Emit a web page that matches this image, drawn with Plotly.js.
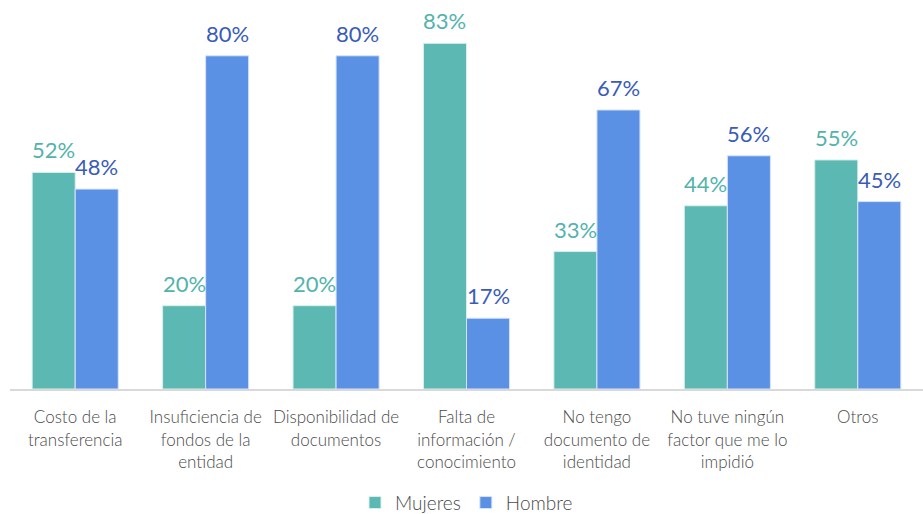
<!DOCTYPE html>
<html>
<head>
<meta charset="utf-8">
<script src="https://cdn.plot.ly/plotly-3.0.1.min.js"></script>
<style>html,body{margin:0;padding:0;background:#fff;}#chart{width:923px;height:514px;}</style>
</head>
<body>
<div id="chart"></div>
<script>
const categories = [
  "Costo de la<br>transferencia",
  "Insuficiencia de<br>fondos de la<br>entidad",
  "Disponibilidad de<br>documentos",
  "Falta de<br>información /<br>conocimiento",
  "No tengo<br>documento de<br>identidad",
  "No tuve ningún<br>factor que me lo<br>impidió",
  "Otros"
];
const mujeres = [0.52, 0.20, 0.20, 0.83, 0.33, 0.44, 0.55];
const hombre = [0.48, 0.80, 0.80, 0.17, 0.67, 0.56, 0.45];

const font = "Lato, 'Open Sans', sans-serif";
const tealBar = '#5cb8b2', blueBar = '#5b91e5';
const tealText = '#52b3ac', blueText = '#3a5cb8';
const bargap = 0.34;
const half = (1 - bargap) / 4;

const traces = [
  {
    type: 'bar', name: 'Mujeres', x: categories, y: mujeres,
    marker: {color: tealBar, line: {color: '#d8efed', width: 1}},
    hoverinfo: 'none'
  },
  {
    type: 'bar', name: 'Hombre', x: categories, y: hombre,
    marker: {color: blueBar, line: {color: '#d6e3f9', width: 1}},
    hoverinfo: 'none'
  }
];
const annotations = [];
mujeres.forEach((v, i) => annotations.push({
  x: i - half, y: v, xref: 'x', yref: 'y', text: Math.round(v*100) + '%',
  showarrow: false, yanchor: 'bottom', yshift: 7,
  font: {family: font, size: 22, color: tealText, weight: 400}
}));
hombre.forEach((v, i) => annotations.push({
  x: i + half, y: v, xref: 'x', yref: 'y', text: Math.round(v*100) + '%',
  showarrow: false, yanchor: 'bottom', yshift: 7,
  font: {family: font, size: 22, color: blueText, weight: 400}
}));

const layout = {
  width: 923, height: 514,
  margin: {l: 10, r: 0, t: 10, b: 125},
  paper_bgcolor: '#fff', plot_bgcolor: '#fff',
  barmode: 'group', bargap: bargap, bargroupgap: 0,
  font: {family: font, color: '#4a4a4a'},
  xaxis: {
    tickfont: {family: font, size: 17, color: '#4a4a4a', weight: 300},
    showline: true, linecolor: '#d9d9d9', linewidth: 2,
    ticks: '', showgrid: false, fixedrange: true, ticklabelstandoff: 12,
    automargin: false
  },
  yaxis: {
    range: [0, 0.91], visible: false, showgrid: false, zeroline: false, fixedrange: true
  },
  annotations: annotations,
  showlegend: true,
  legend: {
    orientation: 'h', x: 0.5, xanchor: 'center',
    yref: 'container', y: 0.022, yanchor: 'middle',
    font: {family: font, size: 19, color: '#4a4a4a', weight: 300},
    itemwidth: 30, traceorder: 'normal'
  }
};
Plotly.newPlot('chart', traces, layout, {displayModeBar: false, staticPlot: true});
</script>
</body>
</html>
